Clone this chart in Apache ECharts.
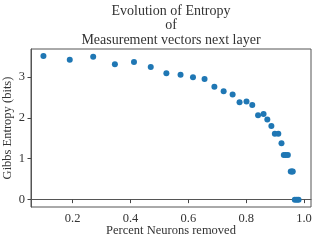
<!DOCTYPE html>
<html>
<head>
<meta charset="utf-8">
<script src="https://cdn.jsdelivr.net/npm/echarts@6/dist/echarts.min.js"></script>
<style>html,body{margin:0;padding:0;background:#fff}#c{width:318px;height:241px}</style>
</head>
<body>
<div id="c"></div>
<script>
const percentRemoved = [0.099, 0.190, 0.271, 0.346, 0.412, 0.470, 0.524, 0.573, 0.616, 0.656,
  0.690, 0.722, 0.753, 0.777, 0.801, 0.821, 0.841, 0.860, 0.873, 0.887,
  0.899, 0.911, 0.922, 0.930, 0.937, 0.944, 0.954, 0.958, 0.961, 0.968, 0.975, 0.981];
const entropyBits = [3.51, 3.42, 3.49, 3.31, 3.36, 3.24, 3.09, 3.05, 2.99, 2.95,
  2.76, 2.65, 2.57, 2.38, 2.40, 2.31, 2.06, 2.09, 1.96, 1.80,
  1.61, 1.61, 1.38, 1.09, 1.09, 1.09, 0.69, 0.69, 0.69, 0, 0, 0];
const xTicks = [0.2, 0.4, 0.6, 0.8, 1.0];
const yTicks = [0, 1, 2, 3];
const titleText = 'Evolution of Entropy\nof\nMeasurement vectors next layer';
const xLabel = 'Percent Neurons removed';
const yLabel = 'Gibbs Entropy (bits)';

const font = '"Liberation Serif", "DejaVu Serif", serif';
const chart = echarts.init(document.getElementById('c'), null, {renderer: 'canvas'});
chart.setOption({
  animation: false,
  title: {
    text: titleText,
    left: 171, top: 4, textAlign: 'center', padding: 0,
    textStyle: {fontFamily: font, fontSize: 14, fontWeight: 'normal', color: '#333', lineHeight: 14.5}
  },
  grid: {left: 31, right: 7, top: 49, bottom: 34, containLabel: false, outerBoundsMode: 'none',
    show: true, borderColor: '#555', borderWidth: 1, backgroundColor: 'transparent'},
  xAxis: {
    type: 'value', min: 0.056, max: 1.024,
    name: xLabel, nameLocation: 'middle', nameGap: 17, nameMoveOverlap: false,
    nameTextStyle: {fontFamily: font, fontSize: 12.5, color: '#333'},
    axisLine: {show: true, lineStyle: {color: '#555', width: 1}},
    axisTick: {show: true, length: 3.5, lineStyle: {color: '#444', width: 1}, customValues: xTicks},
    axisLabel: {fontFamily: font, fontSize: 12.5, color: '#333', margin: 5, customValues: xTicks,
      formatter: v => v.toFixed(1)},
    splitLine: {show: false}
  },
  yAxis: {
    type: 'value', min: -0.18, max: 3.68,
    name: yLabel, nameLocation: 'middle', nameGap: 17, nameRotate: 90, nameMoveOverlap: false,
    nameTextStyle: {fontFamily: font, fontSize: 12.5, color: '#333'},
    axisLine: {show: true, lineStyle: {color: '#555', width: 1}},
    axisTick: {show: true, length: 3.5, lineStyle: {color: '#444', width: 1}, customValues: yTicks},
    axisLabel: {fontFamily: font, fontSize: 12.5, color: '#333', margin: 6, customValues: yTicks,
      formatter: v => String(v)},
    splitLine: {show: false}
  },
  series: [{
    type: 'scatter',
    data: percentRemoved.map((x, i) => [x, entropyBits[i]]),
    symbolSize: 6,
    itemStyle: {color: '#1f77b4', opacity: 1}
  }]
});
</script>
</body>
</html>
